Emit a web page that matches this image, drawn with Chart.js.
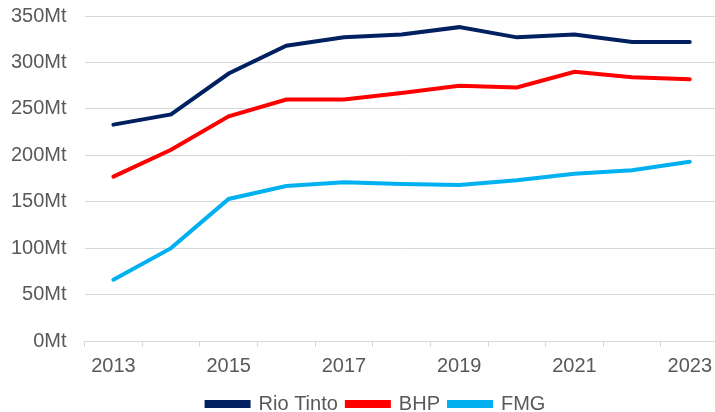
<!DOCTYPE html>
<html>
<head>
<meta charset="utf-8">
<script src="https://cdn.jsdelivr.net/npm/chart.js@4.4.0/dist/chart.umd.min.js"></script>
<style>
  html, body { margin: 0; padding: 0; background: #fff; width: 715px; height: 412px; overflow: hidden; }
  #wrap { width: 721px; height: 412px; }
</style>
</head>
<body>
<div id="wrap"><canvas id="chart"></canvas></div>
<script>
const years = ['2013', '2014', '2015', '2016', '2017', '2018', '2019', '2020', '2021', '2022', '2023'];
const rioTinto = [233, 244, 288, 318, 327, 330, 338, 327, 330, 322, 322];
const bhp = [177, 206, 242, 260, 260, 267, 275, 273, 290, 284, 282];
const fmg = [66, 100, 153, 167, 171, 169, 168, 173, 180, 184, 193];
const yTicks = [0, 50, 100, 150, 200, 250, 300, 350];

Chart.defaults.font.family = "'Liberation Sans', Arial, sans-serif";
Chart.defaults.font.size = 20;
Chart.defaults.color = '#595959';

// legend sits a little right of centre in the original
const legendShift = {
    id: 'legendShift',
    afterLayout: chart => {
        chart.legend.left += 12;
        chart.legend.right += 12;
    }
};

const ctx = document.getElementById('chart').getContext('2d');
new Chart(ctx, {
    type: 'line',
    data: {
        labels: years,
        datasets: [
            { label: 'Rio Tinto', data: rioTinto, borderColor: '#002060', backgroundColor: '#002060' },
            { label: 'BHP', data: bhp, borderColor: '#ff0000', backgroundColor: '#ff0000' },
            { label: 'FMG', data: fmg, borderColor: '#00b0f0', backgroundColor: '#00b0f0' }
        ].map(d => Object.assign(d, { borderWidth: 4, pointRadius: 0, tension: 0, fill: false, borderCapStyle: 'round' }))
    },
    options: {
        responsive: true,
        maintainAspectRatio: false,
        animation: false,
        layout: { padding: { top: 0, right: 0, left: 7, bottom: -12 } },
        scales: {
            x: {
                offset: true,
                grid: { offset: true, drawOnChartArea: false, drawTicks: true, tickLength: 6, color: '#d9d9d9' },
                border: { display: true, color: '#d9d9d9' },
                ticks: {
                    autoSkip: false,
                    maxRotation: 0,
                    padding: 9,
                    font: { lineHeight: 1.0 },
                    callback: function(value, index) { return index % 2 === 0 ? years[index] : ''; }
                }
            },
            y: {
                min: 0,
                max: 350,
                afterBuildTicks: axis => { axis.ticks = yTicks.map(v => ({ value: v })); },
                grid: { color: '#d9d9d9', drawTicks: true, tickLength: 14, tickColor: 'transparent' },
                border: { display: false },
                ticks: { padding: 4, callback: v => v + 'Mt' }
            }
        },
        plugins: {
            legend: {
                position: 'bottom',
                labels: { boxWidth: 42, boxHeight: 4, padding: 9 }
            },
            tooltip: { enabled: false }
        }
    },
    plugins: [legendShift]
});
</script>
</body>
</html>
